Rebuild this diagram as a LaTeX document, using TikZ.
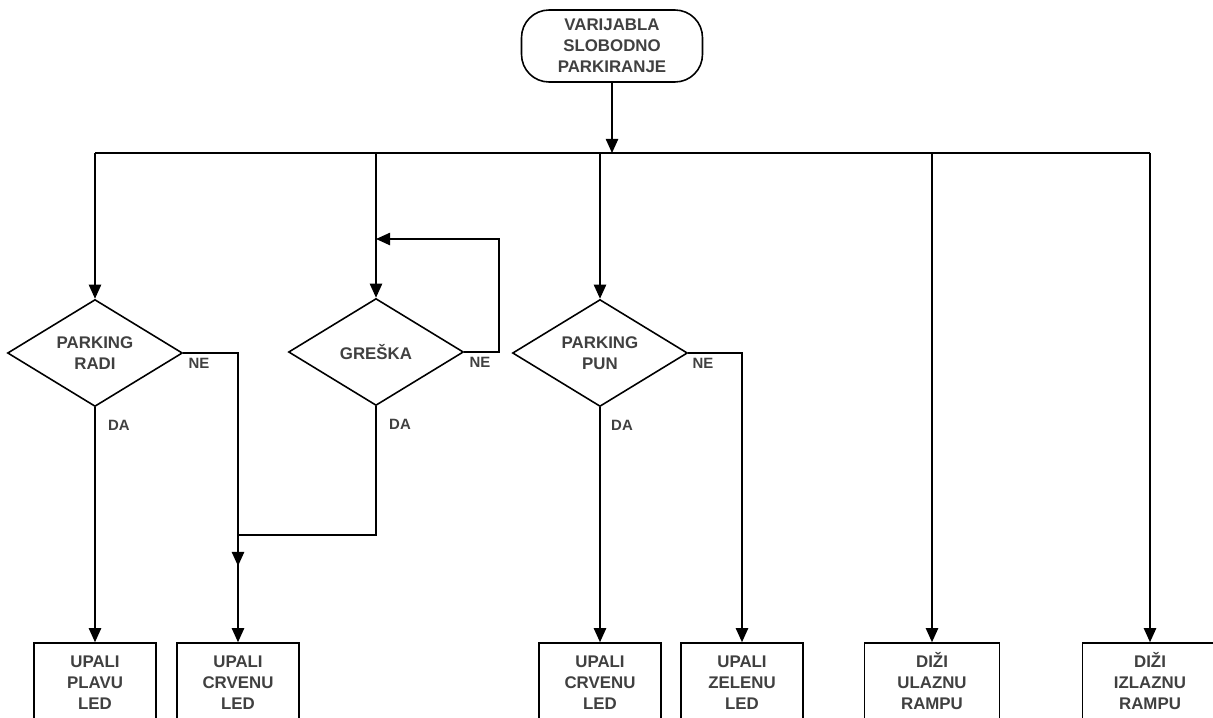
\documentclass[tikz,border=0pt]{standalone}
\usepackage{fontspec}
\setmainfont{Liberation Sans}
\usetikzlibrary{shapes.geometric,arrows.meta}

\begin{document}
\begin{tikzpicture}[x=0.02cm, y=-0.02cm, line width=0.9pt, >={Triangle[length=8pt,width=7pt]},
  every node/.style={text=black!75, font=\bfseries\fontsize{9.6}{12}\selectfont, align=center},
  term/.style={draw, rounded corners=0.55cm, minimum width=3.62cm, minimum height=1.44cm, inner sep=0pt},
  cond/.style={draw, diamond, aspect=1.64, minimum width=3.5cm, minimum height=2.14cm, inner sep=0pt},
  ledbox/.style={draw, minimum width=2.44cm, minimum height=1.6cm, inner sep=0pt},
  rampbox/.style={draw, minimum width=2.7cm, minimum height=1.6cm, inner sep=0pt},
  lab/.style={font=\bfseries\fontsize{8.5}{10}\selectfont}]
\useasboundingbox (0,0) rectangle (1213,717);
\clip (0,0) rectangle (1213,717);

% start and decisions
\node[term] (start) at (612,46) {VARIJABLA\\SLOBODNO\\PARKIRANJE};
\node[cond] (radi) at (95,353) {PARKING\\RADI};
\node[cond] (greska) at (376,352) {GREŠKA};
\node[cond] (pun) at (600,353) {PARKING\\PUN};

% outputs
\node[ledbox] (plava) at (95,683) {UPALI\\PLAVU\\LED};
\node[ledbox] (crvena) at (238,683) {UPALI\\CRVENU\\LED};
\node[ledbox] (crvena2) at (600,683) {UPALI\\CRVENU\\LED};
\node[ledbox] (zelena) at (742,683) {UPALI\\ZELENU\\LED};
\node[rampbox] (ulaz) at (932,683) {DI\smash{Ž}I\\ULAZNU\\RAMPU};
\node[rampbox] (izlaz) at (1150,683) {DI\smash{Ž}I\\IZLAZNU\\RAMPU};

% bus
\coordinate (bl) at (95,153);
\coordinate (br) at (1150,153);
\draw (bl) -- (br);
\draw[->] (start) -- (start.south |- bl);
\draw[->] (bl) -- (radi);
\draw[->] (greska.north |- bl) -- (greska);
\draw[->] (pun.north |- bl) -- (pun);
\draw[->] (ulaz.north |- bl) -- (ulaz);
\draw[->] (br) -- (izlaz);

% parking radi
\draw[->] (radi.south) -- (plava);
\draw[->] (radi.east) -| (crvena);
\node[lab] (ne1) at (199,363) {NE};
\node[lab] (da1) at (119,425) {DA};

% greska
\coordinate (petlja) at (499,239);
\coordinate (spoj) at (238,535);
\coordinate (spojdolje) at (238,566);
\draw[->] (greska.east) -| (petlja) -- (greska.north |- petlja);
\draw[->] (greska.south) |- (spoj) -- (spojdolje);
\node[lab] (ne2) at (480,362) {NE};
\node[lab] (da2) at (400,424) {DA};

% parking pun
\draw[->] (pun.south) -- (crvena2);
\draw[->] (pun.east) -| (zelena);
\node[lab] (ne3) at (703,363) {NE};
\node[lab] (da3) at (622,425) {DA};
\end{tikzpicture}
\end{document}
